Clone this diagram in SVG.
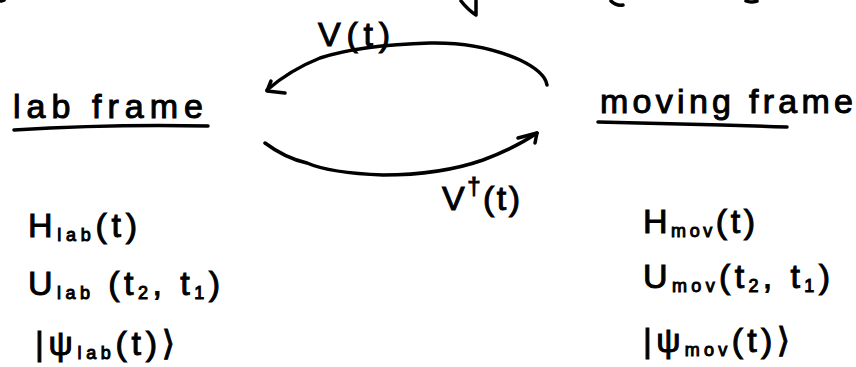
<svg xmlns="http://www.w3.org/2000/svg" width="856" height="367" viewBox="0 0 856 367">
<style>
.t{font-family:"Liberation Sans","DejaVu Sans",sans-serif;font-size:34px;fill:#000;stroke:#000;stroke-width:1}
.s{font-size:18px}
.ink{fill:none;stroke:#000;stroke-width:3.5;stroke-linecap:round;stroke-linejoin:round}
</style>
<rect width="856" height="367" fill="#fff"/>
<g id="scraps">
<path class="ink" d="M1 1 L4 0"/>
<path class="ink" d="M461 1 Q468 10 476 15 L476 1"/>
<path class="ink" d="M611 1 Q616 6 623 5"/>
<path class="ink" d="M746 1 Q751 3 757 1"/>
</g>
<g id="lab-frame">
<text class="t" x="13" y="118" textLength="190" lengthAdjust="spacing">lab frame</text>
<path class="ink" d="M14 130 Q110 124 208 126"/>
</g>
<g id="moving-frame">
<text class="t" x="600" y="113" textLength="253" lengthAdjust="spacing">moving frame</text>
<path class="ink" d="M598 122 Q690 124 787 127"/>
</g>
<g id="lab-quantities">
<text class="t" x="28" y="237" textLength="109" lengthAdjust="spacing">H<tspan class="s" dy="4">lab</tspan><tspan dy="-4">(t)</tspan></text>
<text class="t" x="28" y="295" textLength="192" lengthAdjust="spacing">U<tspan class="s" dy="4">lab</tspan><tspan dy="-4"> (t</tspan><tspan class="s" dy="4">2</tspan><tspan dy="-4">, t</tspan><tspan class="s" dy="4">1</tspan><tspan dy="-4">)</tspan></text>
<text class="t" x="35" y="355" textLength="140" lengthAdjust="spacing">|ψ<tspan class="s" dy="4">lab</tspan><tspan dy="-4">(t)⟩</tspan></text>
</g>
<g id="mov-quantities">
<text class="t" x="643" y="233" textLength="112" lengthAdjust="spacing">H<tspan class="s" dy="4">mov</tspan><tspan dy="-4">(t)</tspan></text>
<text class="t" x="643" y="288" textLength="187" lengthAdjust="spacing">U<tspan class="s" dy="4">mov</tspan><tspan dy="-4">(t</tspan><tspan class="s" dy="4">2</tspan><tspan dy="-4">, t</tspan><tspan class="s" dy="4">1</tspan><tspan dy="-4">)</tspan></text>
<text class="t" x="643" y="352" textLength="147" lengthAdjust="spacing">|ψ<tspan class="s" dy="4">mov</tspan><tspan dy="-4">(t)⟩</tspan></text>
</g>
<g id="connectors">
<path class="ink" d="M547 85 Q545 72 520 60 Q480 42 430 43 Q360 45 320 58 Q290 70 267 90"/>
<path class="ink" d="M271 81 L267 91 L285 93"/>
<path class="ink" d="M265 143 Q285 158 307 163 Q330 173 383 175 Q440 175 483 160 Q515 148 537 133"/>
<path class="ink" d="M518 138 L537 133 L535 143"/>
<text class="t" x="318" y="46" textLength="72" lengthAdjust="spacing">V(t)</text>
<text class="t" x="442" y="210" textLength="78" lengthAdjust="spacing">V<tspan font-size="24px" dy="-16">†</tspan><tspan dy="16">(t)</tspan></text>
</g>
</svg>
